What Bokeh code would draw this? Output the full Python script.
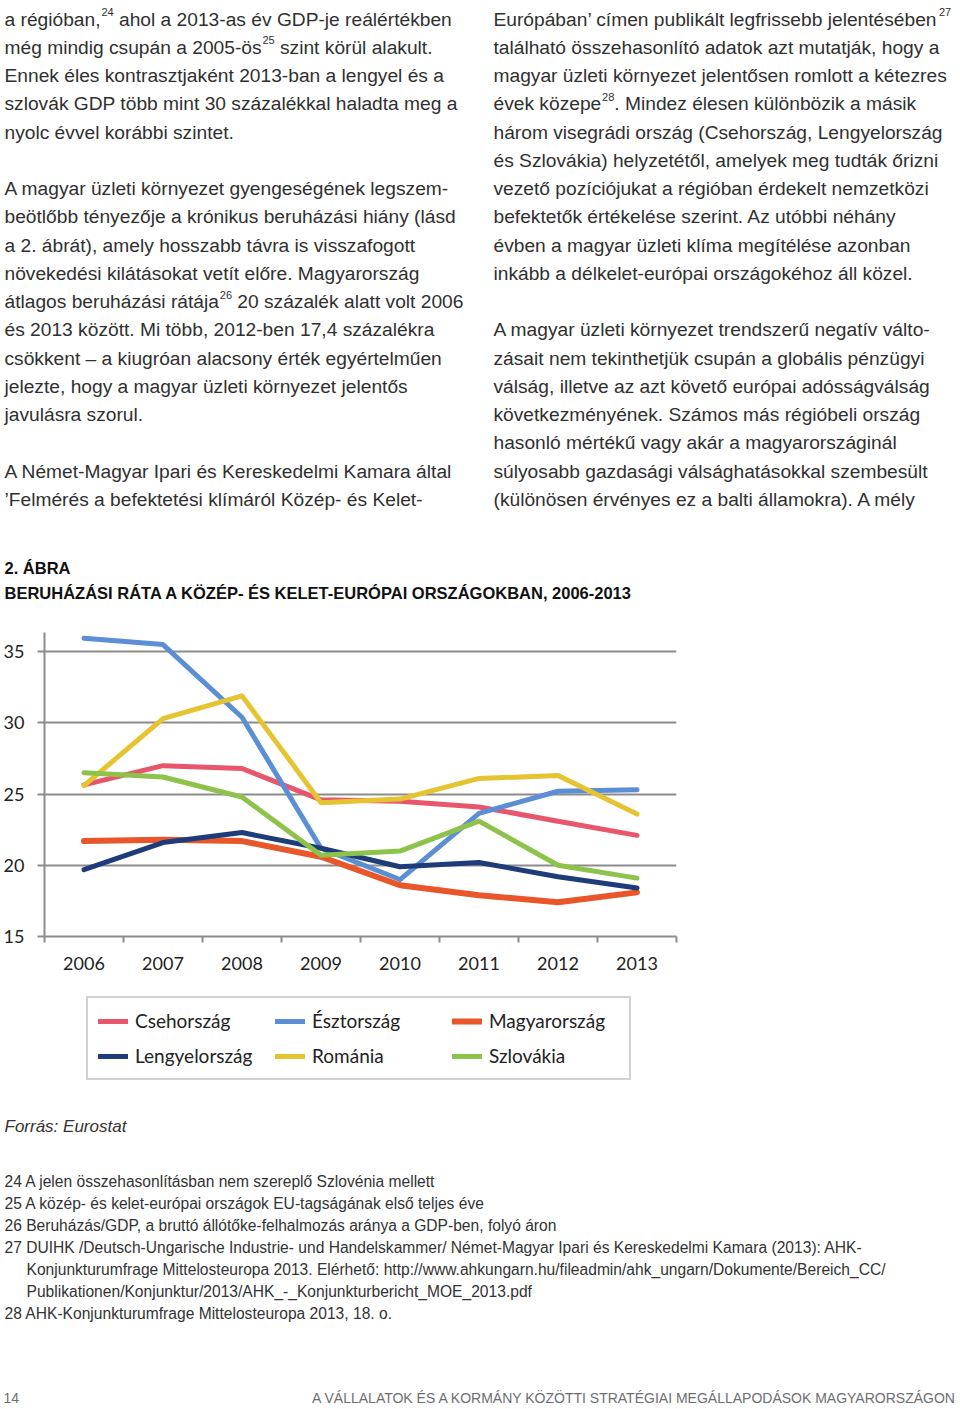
from bokeh.plotting import figure
from bokeh.models import Range1d, FixedTicker, Legend, LegendItem, ColumnDataSource
from bokeh.embed import file_html
from bokeh.resources import INLINE
from bokeh.core.properties import value

# ---------------- data ----------------
years = ["2006", "2007", "2008", "2009", "2010", "2011", "2012", "2013"]
csehorszag = [25.65, 27.0, 26.8, 24.6, 24.5, 24.1, 23.1, 22.1]
esztorszag = [35.95, 35.5, 30.4, 21.2, 19.0, 23.65, 25.2, 25.3]
magyarorszag = [21.7, 21.8, 21.7, 20.6, 18.6, 17.9, 17.4, 18.1]
lengyelorszag = [19.7, 21.6, 22.3, 21.2, 19.9, 20.2, 19.2, 18.4]
romania = [25.6, 30.3, 31.9, 24.4, 24.65, 26.1, 26.3, 23.6]
szlovakia = [26.5, 26.2, 24.8, 20.7, 21.0, 23.1, 20.0, 19.1]
series_names = ["Csehország", "Észtország", "Magyarország", "Lengyelország", "Románia", "Szlovákia"]
y_ticks = [15, 20, 25, 30, 35]

colors = ["#e8566c", "#5b8ed4", "#e8562a", "#1f3c7a", "#e6c431", "#8dc34b"]
widths = [5, 5, 6, 5, 5, 5]

BODY = "Liberation Sans"
CHART = "Lato"
TXT = "#303030"
GRID = "#8c8c8c"

W = 958
H1, H2 = 606, 378
H3 = 1409 - H1 - H2
FL, FR, FT, FB = 43, 676, 632, 936   # chart frame edges on the page


def text_fig(h, y0):
    f = figure(width=W, height=h, x_range=Range1d(0, W), y_range=Range1d(y0 + h, y0),
               output_backend="svg", toolbar_location=None, min_border=0,
               x_axis_type=None, y_axis_type=None, title=None)
    f.outline_line_color = None
    return f


def put(f, x, y, s, font=BODY, size="19.2px", color=TXT, style="normal", align="left"):
    f.text(x=[x], y=[y], text=[s], text_font=value(font), text_font_size=size,
           text_color=color, text_font_style=style, text_align=align,
           text_baseline="alphabetic")


# ---------------- top text ----------------
top = text_fig(H1, 0)
base0, pitch = 18.5, 28.25
LX, RX = 4, 493
SUP = "11px"

left = {
    2: "Ennek éles kontrasztjaként 2013-ban a lengyel és a",
    3: "szlovák GDP több mint 30 százalékkal haladta meg a",
    4: "nyolc évvel korábbi szintet.",
    6: "A magyar üzleti környezet gyengeségének legszem-",
    7: "beötlőbb tényezője a krónikus beruházási hiány (lásd",
    8: "a 2. ábrát), amely hosszabb távra is visszafogott",
    9: "növekedési kilátásokat vetít előre. Magyarország",
    11: "és 2013 között. Mi több, 2012-ben 17,4 százalékra",
    12: "csökkent – a kiugróan alacsony érték egyértelműen",
    13: "jelezte, hogy a magyar üzleti környezet jelentős",
    14: "javulásra szorul.",
    16: "A Német-Magyar Ipari és Kereskedelmi Kamara által",
    17: "’Felmérés a befektetési klímáról Közép- és Kelet-",
}
for k, s in left.items():
    put(top, LX, base0 + pitch * k, s)
b = base0
put(top, LX, b, "a régióban,")
put(top, 101, b - 7, "24", size=SUP)
put(top, 118.5, b, "ahol a 2013-as év GDP-je reálértékben")
b = base0 + pitch
put(top, LX, b, "még mindig csupán a 2005-ös")
put(top, 262, b - 7, "25", size=SUP)
put(top, 279.5, b, "szint körül alakult.")
b = base0 + pitch * 10
put(top, LX, b, "átlagos beruházási rátája")
put(top, 219.3, b - 7, "26", size=SUP)
put(top, 236.8, b, "20 százalék alatt volt 2006")

right = {
    1: "található összehasonlító adatok azt mutatják, hogy a",
    2: "magyar üzleti környezet jelentősen romlott a kétezres",
    4: "három visegrádi ország (Csehország, Lengyelország",
    5: "és Szlovákia) helyzetétől, amelyek meg tudták őrizni",
    6: "vezető pozíciójukat a régióban érdekelt nemzetközi",
    7: "befektetők értékelése szerint. Az utóbbi néhány",
    8: "évben a magyar üzleti klíma megítélése azonban",
    9: "inkább a délkelet-európai országokéhoz áll közel.",
    11: "A magyar üzleti környezet trendszerű negatív válto-",
    12: "zásait nem tekinthetjük csupán a globális pénzügyi",
    13: "válság, illetve az azt követő európai adósságválság",
    14: "következményének. Számos más régióbeli ország",
    15: "hasonló mértékű vagy akár a magyarországinál",
    16: "súlyosabb gazdasági válsághatásokkal szembesült",
    17: "(különösen érvényes ez a balti államokra). A mély",
}
for k, s in right.items():
    put(top, RX, base0 + pitch * k, s)
b = base0
put(top, RX, b, "Európában’ címen publikált legfrissebb jelentésében")
put(top, 938.5, b - 7, "27", size=SUP)
b = base0 + pitch * 3
put(top, RX, b, "évek közepe")
put(top, 601.6, b - 7, "28", size=SUP)
put(top, 613.8, b, ". Mindez élesen különbözik a másik")

put(top, 4, 567, "2. ÁBRA", size="16.5px", color="#111111", style="bold")
put(top, 4, 592, "BERUHÁZÁSI RÁTA A KÖZÉP- ÉS KELET-EURÓPAI ORSZÁGOKBAN, 2006-2013",
    size="16.5px", color="#111111", style="bold")

# ---------------- chart ----------------
xs = [i + 0.5 for i in range(len(years))]
src = ColumnDataSource(dict(x=xs, cz=csehorszag, ee=esztorszag, hu=magyarorszag,
                            pl=lengyelorszag, ro=romania, sk=szlovakia))
keys = ["cz", "ee", "hu", "pl", "ro", "sk"]

ch = figure(width=W, height=H2, x_range=Range1d(0, len(years)), y_range=Range1d(15, 36.35),
            output_backend="svg", toolbar_location=None, title=None,
            min_border_left=FL, min_border_right=W - FR,
            min_border_top=FT - H1, min_border_bottom=H1 + H2 - FB)
ch.outline_line_color = None
ch.xgrid.visible = False
ch.ygrid.ticker = FixedTicker(ticks=y_ticks)
ch.ygrid.grid_line_color = GRID
ch.ygrid.grid_line_width = 2

ch.yaxis.ticker = FixedTicker(ticks=y_ticks)
ch.yaxis.axis_line_color = GRID
ch.yaxis.axis_line_width = 2
ch.yaxis.major_tick_line_color = GRID
ch.yaxis.major_tick_line_width = 2
ch.yaxis.major_tick_out = 7
ch.yaxis.major_tick_in = 0
ch.yaxis.minor_tick_line_color = None
ch.yaxis.major_label_standoff = 13
ch.yaxis.major_label_text_font = CHART
ch.yaxis.major_label_text_font_size = "18px"
ch.yaxis.major_label_text_color = "#222222"

ch.xaxis.ticker = FixedTicker(ticks=xs, minor_ticks=list(range(len(years) + 1)))
ch.xaxis.major_label_overrides = {x: y for x, y in zip(xs, years)}
ch.xaxis.axis_line_color = GRID
ch.xaxis.axis_line_width = 2
ch.xaxis.major_tick_line_color = None
ch.xaxis.major_tick_out = 0
ch.xaxis.major_tick_in = 0
ch.xaxis.minor_tick_line_color = GRID
ch.xaxis.minor_tick_line_width = 2
ch.xaxis.minor_tick_out = 6
ch.xaxis.minor_tick_in = 0
ch.xaxis.major_label_standoff = 14
ch.xaxis.major_label_text_font = CHART
ch.xaxis.major_label_text_font_size = "18px"
ch.xaxis.major_label_text_color = "#222222"

for k, c, w in zip(keys, colors, widths):
    ch.line(x="x", y=k, source=src, line_color=c, line_width=w,
            line_cap="round", line_join="round")

# ---------------- bottom text + legend ----------------
Y3 = H1 + H2
bot = text_fig(H3, Y3)

# legend: the same series and styles (their values lie outside this panel's page range,
# so only the legend swatches show here)
items = []
for k, name, c, w in zip(keys, series_names, colors, widths):
    r = bot.line(x="x", y=k, source=src, line_color=c, line_width=w, line_cap="round")
    items.append(LegendItem(label=name, renderers=[r]))
leg = Legend(items=items, orientation="horizontal", ncols=3, location=(86, Y3 + H3 - 1080),
             glyph_width=30, glyph_height=20, label_standoff=7, label_height=25, label_width=130,
             label_text_font=CHART, label_text_font_size="19px", label_text_color="#222222",
             spacing=10, padding=10, margin=0,
             border_line_color="#a6a6a6", border_line_width=2)
bot.add_layout(leg)

put(bot, 4, 1126, "Forrás: Eurostat", size="17px", style="italic", color="#333333")
notes = [
    (4, "24 A jelen összehasonlításban nem szereplő Szlovénia mellett"),
    (4, "25 A közép- és kelet-európai országok EU-tagságának első teljes éve"),
    (4, "26 Beruházás/GDP, a bruttó állótőke-felhalmozás aránya a GDP-ben, folyó áron"),
    (4, "27 DUIHK /Deutsch-Ungarische Industrie- und Handelskammer/ Német-Magyar Ipari és Kereskedelmi Kamara (2013): AHK-"),
    (26, "Konjunkturumfrage Mittelosteuropa 2013. Elérhető: http://www.ahkungarn.hu/fileadmin/ahk_ungarn/Dokumente/Bereich_CC/"),
    (26, "Publikationen/Konjunktur/2013/AHK_-_Konjunkturbericht_MOE_2013.pdf"),
    (4, "28 AHK-Konjunkturumfrage Mittelosteuropa 2013, 18. o."),
]
for i, (x, s) in enumerate(notes):
    put(bot, x, 1181 + 22 * i, s, size="15.6px", color="#333333")

put(bot, 3, 1397, "14", size="14px", color="#6d6e70")
put(bot, 957, 1397, "A VÁLLALATOK ÉS A KORMÁNY KÖZÖTTI STRATÉGIAI MEGÁLLAPODÁSOK MAGYARORSZÁGON",
    size="14px", color="#6d6e70", align="right")

open("out.html", "w").write(file_html([top, ch, bot], INLINE))
